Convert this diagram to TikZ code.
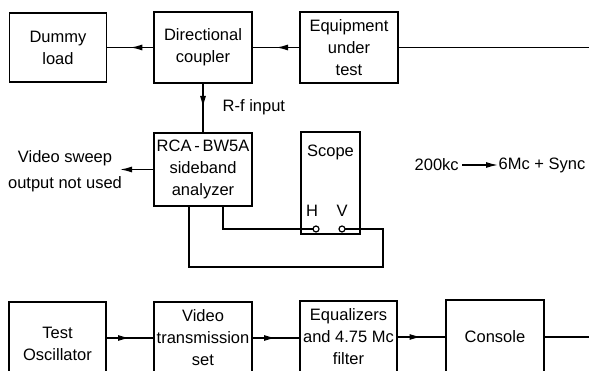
\documentclass[tikz,border=0pt]{standalone}
\usepackage{fontspec}
\setmainfont{Liberation Sans}
\usetikzlibrary{arrows.meta,decorations.markings}

\tikzset{
  box/.style={draw, line width=1.4pt, align=center, inner sep=0pt,
    font=\fontsize{16.5}{22}\selectfont},
  lbl/.style={inner sep=0pt, align=center, font=\fontsize{16.5}{22}\selectfont},
  term/.style={draw, circle, fill=white, line width=1.2pt, minimum size=6pt, inner sep=0pt},
  tip/.style={-{Latex[length=12pt,width=6pt]}},
  midarrow/.style={decoration={markings,
      mark=at position 0.5 with {\arrow{Latex[length=12pt,width=6pt]}}},
    postaction={decorate}},
}

\begin{document}
\begin{tikzpicture}[x=1pt, y=-1pt, line width=1.4pt]
  \clip (0,0) rectangle (589,371);

  % upper chain
  \node[box, minimum width=97pt, minimum height=69pt] (dummy) at (58,47.5) {Dummy\\load};
  \node[box, minimum width=98pt, minimum height=71pt] (coupler) at (203,47.5) {Directional\\coupler};
  \node[box, minimum width=98pt, minimum height=71pt] (eut) at (349,47.5) {Equipment\\under\\test};
  \coordinate (feed) at (595,47.5);

  \draw (eut.east) -- (feed);
  \draw[midarrow] (eut.west) -- (coupler.east);
  \draw[midarrow] (coupler.west) -- (dummy.east);

  % analyzer and scope
  \node[box, minimum width=98pt, minimum height=73pt] (analyzer) at (203,169.5)
    {RCA\,-\,BW5A\\sideband\\analyzer};
  \node[box, minimum width=59pt, minimum height=102pt] (scope) at (330.5,183) {};
  \node[lbl] (scopelbl) at (330.5,152) {Scope};
  \node[lbl] (hlbl) at (312,211) {H};
  \node[lbl] (vlbl) at (342,211) {V};

  \draw[midarrow] (coupler.south) -- (analyzer.north);
  \node[lbl, anchor=west] (rf) at (222,107) {R-f input};

  \coordinate (sweep) at (120,169.5);
  \draw[tip] (analyzer.west) -- (sweep);
  \node[lbl, font=\fontsize{16.5}{26}\selectfont] (sweeplbl) at (65,171)
    {Video sweep\\output not used};

  \coordinate (vcorner) at (383,267);
  \draw ([xshift=20pt]analyzer.south) |- (316,229);
  \draw (342,229) -| (vcorner) -| ([xshift=-14pt]analyzer.south);
  \node[term] (hT) at (316,229) {};
  \node[term] (vT) at (342,229) {};

  \node[lbl, anchor=west] (fa) at (414,165) {200kc};
  \node[lbl, anchor=west] (fb) at (498,165) {6Mc + Sync};
  \draw[tip, shorten <=3pt] (fa.east) -- (fb.west);

  % lower chain
  \node[box, minimum width=97pt, minimum height=84pt] (osc) at (57.5,344) {Test\\Oscillator};
  \node[box, minimum width=98pt, minimum height=72pt] (video) at (203,338) {Video\\transmission\\set};
  \node[box, minimum width=97pt, minimum height=72pt] (eq) at (348.5,337) {Equalizers\\and 4.75 Mc\\filter};
  \node[box, minimum width=98pt, minimum height=74pt] (console) at (495,337) {Console};
  \coordinate (out) at (595,337);

  \draw[midarrow] (osc.east |- video.west) -- (video.west);
  \draw[midarrow] (video.east) -- (video.east -| eq.west);
  \draw[midarrow] (eq.east) -- (console.west);
  \draw (console.east) -- (out);
\end{tikzpicture}
\end{document}
